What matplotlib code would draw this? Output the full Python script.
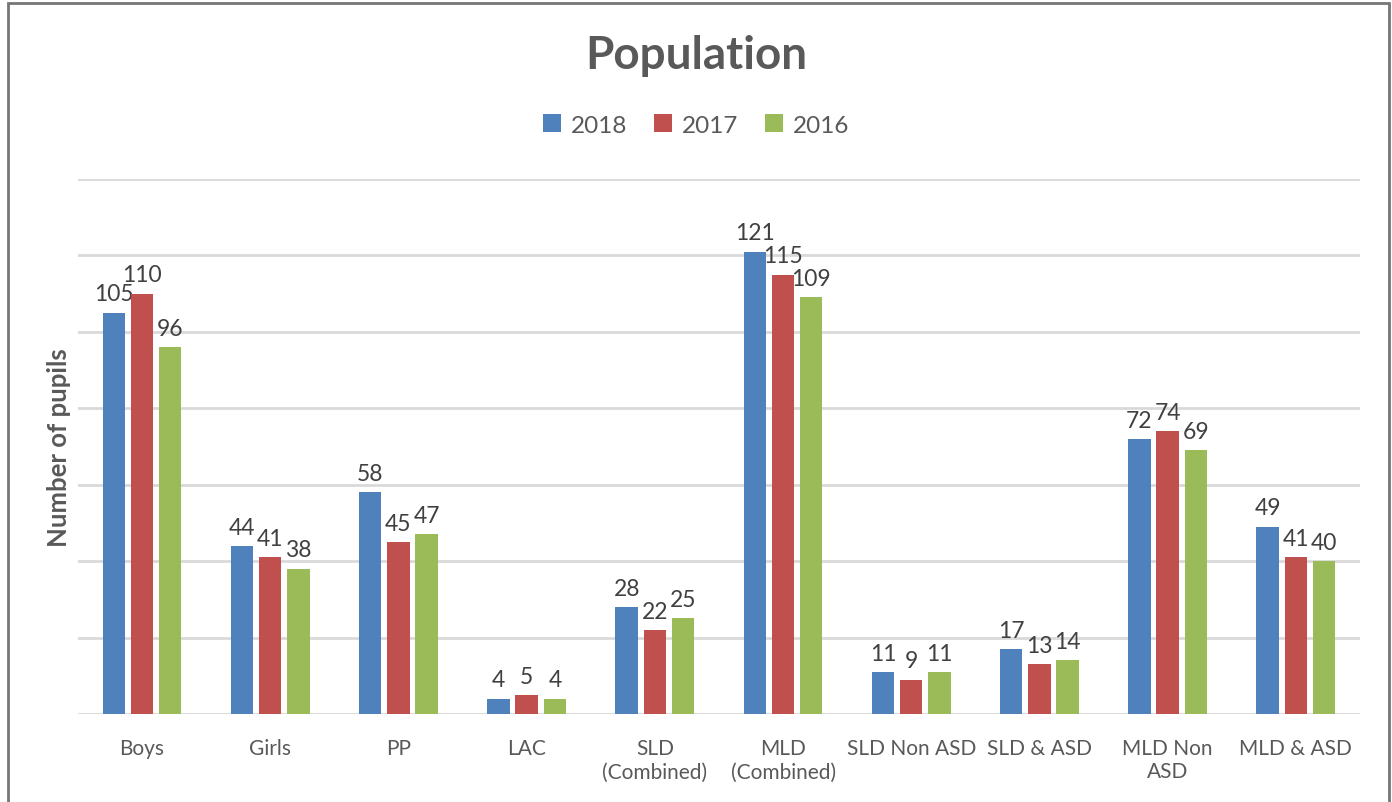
import numpy as np
import matplotlib
matplotlib.use("Agg")
from matplotlib import pyplot as plt
from matplotlib.patches import Rectangle

categories = ["Boys", "Girls", "PP", "LAC", "SLD\n(Combined)", "MLD\n(Combined)",
              "SLD Non ASD", "SLD & ASD", "MLD Non\nASD", "MLD & ASD"]
years = ["2018", "2017", "2016"]
vals_2018 = [105, 44, 58, 4, 28, 121, 11, 17, 72, 49]
vals_2017 = [110, 41, 45, 5, 22, 115, 9, 13, 74, 41]
vals_2016 = [96, 38, 47, 4, 25, 109, 11, 14, 69, 40]
colors = ["#4F81BD", "#C0504D", "#9BBB59"]

plt.rcParams['font.family'] = ['Lato', 'DejaVu Sans']
grey = "#595959"

fig = plt.figure(figsize=(13.92, 8.03), dpi=100)
ax = fig.add_axes([0.056, 0.1096, 0.921, 0.6662])

x = np.arange(len(categories))
w = 0.175
step = 0.22
for i, (vals, yr) in enumerate(zip([vals_2018, vals_2017, vals_2016], years)):
    bars = ax.bar(x + (i - 1) * step, vals, w, color=colors[i], label=yr, zorder=3)
    ax.bar_label(bars, padding=6, fontsize=16.5, color="#404040")

ax.set_xlim(-0.5, len(categories) - 0.5)
ax.set_ylim(0, 140)
ax.set_yticks(np.arange(0, 141, 20))
ax.yaxis.grid(True, color="#d9d9d9", linewidth=2, zorder=0)
ax.tick_params(axis='y', left=False, labelleft=False)
ax.tick_params(axis='x', bottom=False, pad=14, labelsize=15, labelcolor=grey)
ax.set_xticks(x)
ax.set_xticklabels(categories)
for s in ax.spines.values():
    s.set_visible(False)

ax.set_ylabel("Number of pupils", fontsize=18.5, fontweight='bold', color=grey, labelpad=5)

fig.text(0.5, 0.93, "Population", ha='center', va='center', fontsize=33,
         fontweight='bold', color=grey)
fig.legend(loc='center', bbox_to_anchor=(0.5, 0.843), ncol=3, frameon=False,
           fontsize=17.5, handlelength=0.75, handleheight=0.75, handletextpad=0.4,
           columnspacing=1.1, labelcolor=grey)

fig.patches.append(Rectangle((8 / 1392, -0.05), (1389 - 8) / 1392, 1 - 4 / 803 + 0.05,
                             transform=fig.transFigure, fill=False,
                             edgecolor="#767676", linewidth=2))

fig.savefig("out.png", dpi=100)
